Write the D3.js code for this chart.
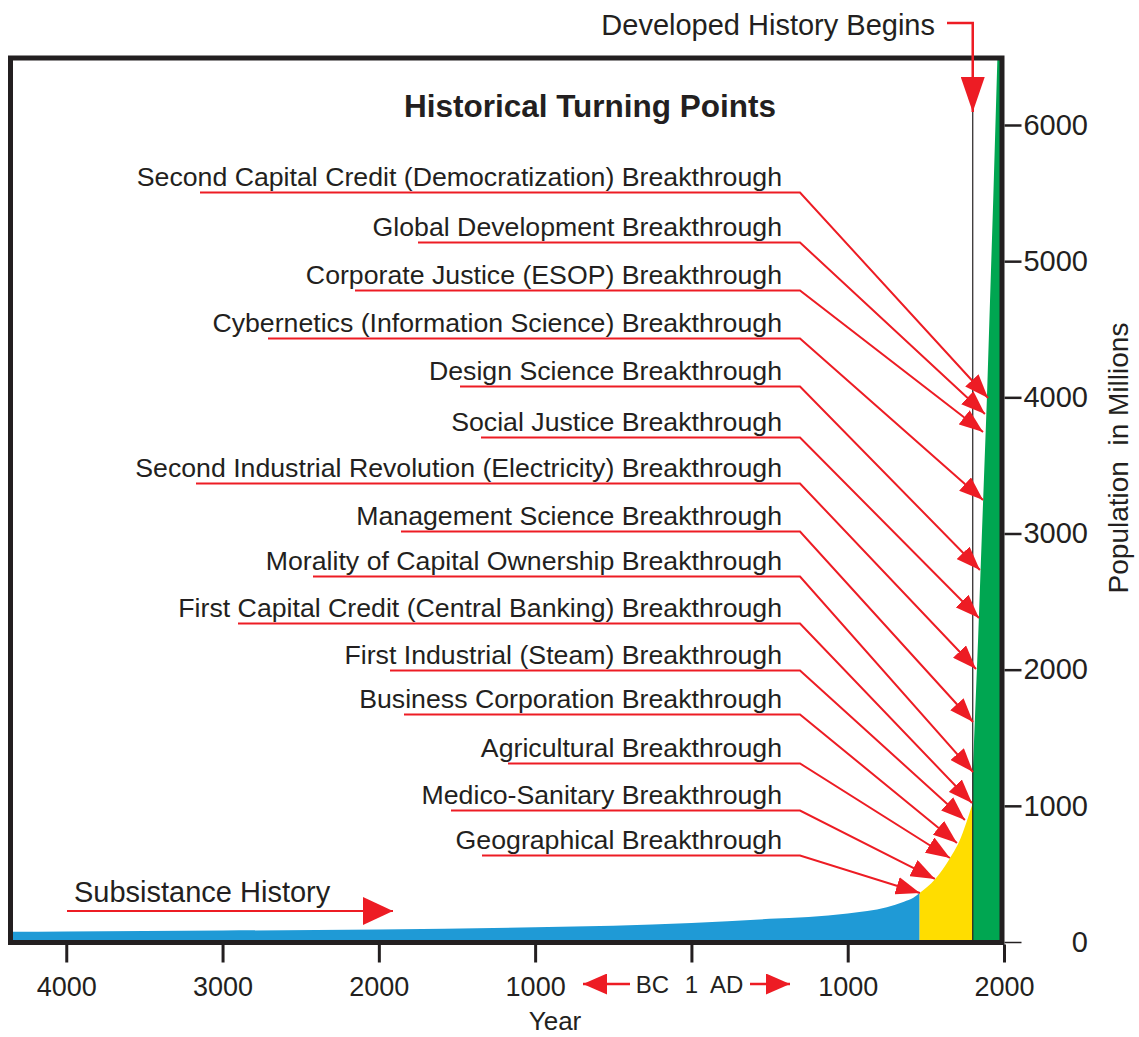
<!DOCTYPE html>
<html>
<head>
<meta charset="utf-8">
<script src="https://cdn.jsdelivr.net/npm/d3@7"></script>
<style>
  body { margin: 0; background: #fff; }
  svg { display: block; font-family: "Liberation Sans", Arial, Helvetica, sans-serif; }
</style>
</head>
<body>
<svg id="chart" width="1139" height="1037"></svg>
<script>
// population curve (millions)
let blueYears = [-4360, -4000, -3000, -2000, -1000, 0, 500, 1000, 1250, 1360, 1420, 1460]
let bluePop   = [76, 78, 84, 92, 108, 140, 170, 210, 255, 296, 325, 360]
let yellowYears = [1460, 1560, 1655, 1725, 1770, 1800]
let yellowPop   = [360, 463, 617, 770, 915, 1020]
let greenYears = [1800, 1834, 1859, 1891, 1931, 1958, 2000]
let greenPop   = [1240, 2218, 3011, 4002, 5449, 6500, 6500]

// turning points, top to bottom, and where each arrow lands
let turningLabels = [
  'Second Capital Credit (Democratization) Breakthrough',
  'Global Development Breakthrough',
  'Corporate Justice (ESOP) Breakthrough',
  'Cybernetics (Information Science) Breakthrough',
  'Design Science Breakthrough',
  'Social Justice Breakthrough',
  'Second Industrial Revolution (Electricity) Breakthrough',
  'Management Science Breakthrough',
  'Morality of Capital Ownership Breakthrough',
  'First Capital Credit (Central Banking) Breakthrough',
  'First Industrial (Steam) Breakthrough',
  'Business Corporation Breakthrough',
  'Agricultural Breakthrough',
  'Medico-Sanitary Breakthrough',
  'Geographical Breakthrough'
]
let turningYears = [1898, 1878, 1866, 1866, 1846, 1840, 1821, 1802, 1802, 1795, 1750, 1699, 1654, 1558, 1462]
let turningPop   = [3995, 3877, 3745, 3246, 2732, 2379, 2005, 1616, 1248, 1021, 896, 727, 617, 463, 360]

let xTicks = [-4000, -3000, -2000, -1000, 0, 1000, 2000]
let yTicks = [0, 1000, 2000, 3000, 4000, 5000, 6000]
let developedYear = 1800

// label layout (pixels)
let labelBaseline = [186, 236, 284, 332, 380, 431, 477, 525, 570, 617, 664, 708, 757, 804, 849]
let underlineStart = [200, 418, 355, 268, 460, 481, 196, 401, 313, 238, 390, 404, 508, 451, 482]

let red = '#ed1c24'
let ink = '#231f20'

let svg = d3.select('#chart')

let x = d3.scaleLinear().domain([-4360, 2000]).range([10, 1004])
let y = d3.scaleLinear().domain([0, 6492]).range([942, 58])

let defs = svg.append('defs')
defs.append('clipPath').attr('id', 'plot')
    .append('rect').attr('x', 10).attr('y', 58).attr('width', 992).attr('height', 884)

let addHead = (id, len, wid) => {
    defs.append('marker')
        .attr('id', id)
        .attr('markerUnits', 'userSpaceOnUse')
        .attr('markerWidth', len)
        .attr('markerHeight', wid)
        .attr('refX', len)
        .attr('refY', wid / 2)
        .attr('orient', 'auto')
        .append('path')
        .attr('d', `M0,0 L${len},${wid / 2} L0,${wid} Z`)
        .attr('fill', red)
}
addHead('head', 24, 18)
addHead('headBig', 35, 24)
addHead('headMid', 30, 28)
addHead('headSmall', 24, 21)

let zipData = (years, pops) => years.map((d, i) => ({ year: d, pop: pops[i] }))

let area = d3.area()
    .x(d => x(d.year))
    .y0(y(0))
    .y1(d => y(d.pop))

let areas = svg.append('g').attr('clip-path', 'url(#plot)')
areas.append('path')
    .datum(zipData(blueYears, bluePop))
    .attr('fill', '#1f9ad6')
    .attr('d', area.curve(d3.curveMonotoneX))
areas.append('path')
    .datum(zipData(yellowYears, yellowPop))
    .attr('fill', '#ffdd00')
    .attr('d', area.curve(d3.curveMonotoneX))
areas.append('path')
    .datum(zipData(greenYears, greenPop))
    .attr('fill', '#00a651')
    .attr('d', area.curve(d3.curveLinear))

// thin line where developed history begins
svg.append('line')
    .attr('x1', x(developedYear)).attr('x2', x(developedYear))
    .attr('y1', y(0)).attr('y2', 112)
    .attr('stroke', ink).attr('stroke-width', 1.2)

// frame
svg.append('rect')
    .attr('x', 10.5).attr('y', 58)
    .attr('width', 991.5).attr('height', 884.5)
    .attr('fill', 'none').attr('stroke', ink).attr('stroke-width', 5)

// x axis
let xAxis = svg.append('g')
    .attr('transform', 'translate(0,944.5)')
    .call(d3.axisBottom(x).tickValues(xTicks).tickSize(18).tickPadding(14)
        .tickFormat(d => d === 0 ? '' : Math.abs(d)))
xAxis.select('.domain').remove()
xAxis.selectAll('line').attr('stroke', ink).attr('stroke-width', 3)
xAxis.selectAll('text').attr('fill', ink).style('font-size', '27px')

svg.append('text')
    .attr('x', 555).attr('y', 1030)
    .attr('text-anchor', 'middle')
    .attr('fill', ink).style('font-size', '26px')
    .text('Year')

// BC 1 AD marker
let era = svg.append('g').attr('fill', ink).style('font-size', '24px')
era.append('text').attr('x', 669).attr('y', 993).attr('text-anchor', 'end').text('BC')
era.append('text').attr('x', x(0)).attr('y', 993).attr('text-anchor', 'middle').text('1')
era.append('text').attr('x', 710).attr('y', 993).attr('text-anchor', 'start').text('AD')
svg.append('path').attr('d', 'M630,984 L583,984')
    .attr('stroke', red).attr('stroke-width', 2.5).attr('fill', 'none').attr('marker-end', 'url(#headSmall)')
svg.append('path').attr('d', 'M750,984 L790,984')
    .attr('stroke', red).attr('stroke-width', 2.5).attr('fill', 'none').attr('marker-end', 'url(#headSmall)')

// y axis
let yAxis = svg.append('g')
    .attr('transform', 'translate(1004.5,0)')
    .call(d3.axisRight(y).tickValues(yTicks).tickSize(17).tickFormat(d3.format('d')))
yAxis.select('.domain').remove()
yAxis.selectAll('line').attr('stroke', ink).attr('stroke-width', d => d === 0 ? 1.5 : 2.5)
yAxis.selectAll('text')
    .attr('x', 83.5).attr('text-anchor', 'end')
    .attr('fill', ink).style('font-size', '29px')

svg.append('text')
    .attr('transform', 'translate(1128,458) rotate(-90)')
    .attr('text-anchor', 'middle')
    .attr('fill', ink).style('font-size', '28px')
    .style('white-space', 'pre')
    .text('Population  in Millions')

// title
svg.append('text')
    .attr('x', 590).attr('y', 117)
    .attr('text-anchor', 'middle')
    .attr('fill', ink).style('font-size', '31.5px').style('font-weight', 'bold')
    .text('Historical Turning Points')

// developed history begins
svg.append('text')
    .attr('x', 935).attr('y', 35)
    .attr('text-anchor', 'end')
    .attr('fill', ink).style('font-size', '29px')
    .text('Developed History Begins')
svg.append('path')
    .attr('d', `M947,23 L${x(developedYear)},23 L${x(developedYear)},112`)
    .attr('stroke', red).attr('stroke-width', 2.5).attr('fill', 'none')
    .attr('marker-end', 'url(#headBig)')

// subsistance history
svg.append('text')
    .attr('x', 74).attr('y', 902)
    .attr('fill', ink).style('font-size', '29px')
    .text('Subsistance History')
svg.append('path')
    .attr('d', 'M67,911 L393,911')
    .attr('stroke', red).attr('stroke-width', 2).attr('fill', 'none')
    .attr('marker-end', 'url(#headMid)')

// turning point labels and arrows
let points = svg.append('g')
turningLabels.forEach((label, i) => {
    let base = labelBaseline[i]
    let uy = base + 6.5
    points.append('text')
        .attr('x', 782).attr('y', base)
        .attr('text-anchor', 'end')
        .attr('fill', ink).style('font-size', '26.7px')
        .text(label)
    points.append('path')
        .attr('d', `M${underlineStart[i]},${uy} L800,${uy} L${x(turningYears[i])},${y(turningPop[i])}`)
        .attr('stroke', red).attr('stroke-width', 2).attr('fill', 'none')
        .attr('marker-end', 'url(#head)')
})
</script>
</body>
</html>
